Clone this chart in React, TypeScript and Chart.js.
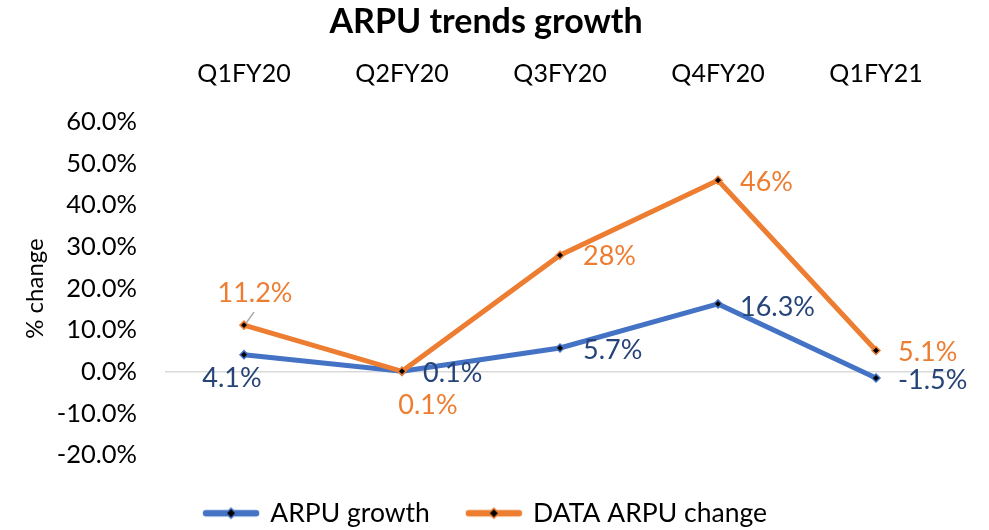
import { useEffect, useRef } from "react";
import { Chart, registerables } from "chart.js";

Chart.register(...registerables);

const categories = ["Q1FY20", "Q2FY20", "Q3FY20", "Q4FY20", "Q1FY21"];
const arpuGrowth = [4.1, 0.1, 5.7, 16.3, -1.5];
const dataArpuChange = [11.2, 0.1, 28, 46, 5.1];
const arpuLabels = ["4.1%", "0.1%", "5.7%", "16.3%", "-1.5%"];
const dataArpuLabels = ["11.2%", "0.1%", "28%", "46%", "5.1%"];
const yMin = -20;
const yMax = 60;
const yStep = 10;

const BLUE = "#4472C4";
const ORANGE = "#ED7D31";
const BLUE_LABEL = "#264478";
const FONT = "Lato, 'Open Sans', sans-serif";

type Place = { dx: number; dy: number; align: CanvasTextAlign; leader?: boolean };

const labelPlacement: Place[][] = [
  [
    { dx: -12, dy: 24, align: "center" },
    { dx: 21, dy: 2, align: "left" },
    { dx: 23, dy: 2, align: "left" },
    { dx: 22, dy: 3, align: "left" },
    { dx: 22, dy: 2, align: "left" },
  ],
  [
    { dx: 11, dy: -32, align: "center", leader: true },
    { dx: 26, dy: 34, align: "center" },
    { dx: 23, dy: 1, align: "left" },
    { dx: 22, dy: 2, align: "left" },
    { dx: 22, dy: 2, align: "left" },
  ],
];

function legendSymbol(color: string) {
  const c = document.createElement("canvas");
  c.width = 58;
  c.height = 14;
  const g = c.getContext("2d")!;
  g.strokeStyle = color;
  g.lineWidth = 6.5;
  g.lineCap = "round";
  g.beginPath();
  g.moveTo(4, 7);
  g.lineTo(54, 7);
  g.stroke();
  g.fillStyle = "#000";
  g.strokeStyle = color;
  g.lineWidth = 1.5;
  g.beginPath();
  g.moveTo(29, 2);
  g.lineTo(34, 7);
  g.lineTo(29, 12);
  g.lineTo(24, 7);
  g.closePath();
  g.fill();
  g.stroke();
  return c;
}

const dataLabelPlugin = {
  id: "pointLabels",
  afterDatasetsDraw(chart: any) {
    const ctx = chart.ctx;
    const texts = [arpuLabels, dataArpuLabels];
    const colors = [BLUE_LABEL, ORANGE];
    ctx.save();
    ctx.font = `27px ${FONT}`;
    ctx.textBaseline = "middle";
    chart.data.datasets.forEach((_ds: any, di: number) => {
      const meta = chart.getDatasetMeta(di);
      meta.data.forEach((pt: any, i: number) => {
        const p = labelPlacement[di][i];
        const x = pt.x + p.dx;
        const y = pt.y + p.dy;
        if (p.leader) {
          ctx.strokeStyle = "#A6A6A6";
          ctx.lineWidth = 1.5;
          ctx.beginPath();
          ctx.moveTo(x - 1, y + 19);
          ctx.lineTo(pt.x + 2, pt.y - 2);
          ctx.stroke();
        }
        ctx.fillStyle = colors[di];
        ctx.textAlign = p.align;
        ctx.fillText(texts[di][i], x, y);
      });
    });
    ctx.restore();
  },
};

export default function App() {
  const ref = useRef<HTMLCanvasElement | null>(null);

  useEffect(() => {
    if (!ref.current) return;
    const chart = new Chart(ref.current, {
      type: "line",
      data: {
        labels: categories,
        datasets: [
          {
            label: "ARPU growth",
            data: arpuGrowth,
            borderColor: BLUE,
            backgroundColor: "#000",
            borderWidth: 5,
            tension: 0,
            pointStyle: "rectRot",
            pointRadius: 4,
            pointBorderColor: BLUE,
            pointBackgroundColor: "#000",
            pointBorderWidth: 1.5,
            order: 1,
          },
          {
            label: "DATA ARPU change",
            data: dataArpuChange,
            borderColor: ORANGE,
            backgroundColor: "#000",
            borderWidth: 5,
            tension: 0,
            pointStyle: "rectRot",
            pointRadius: 4,
            pointBorderColor: ORANGE,
            pointBackgroundColor: "#000",
            pointBorderWidth: 1.5,
            order: 0,
          },
        ],
      },
      options: {
        responsive: false,
        animation: false,
        layout: { padding: { left: 17, right: 34, top: 0, bottom: -6.5 } },
        plugins: {
          title: {
            display: true,
            text: "ARPU trends growth",
            color: "#000",
            font: { family: FONT, size: 34, weight: "bold" },
            padding: { top: 1.6, bottom: 5 },
          },
          legend: {
            display: true,
            position: "bottom",
            title: { display: true, text: " ", font: { size: 5 }, padding: { top: 1, bottom: 0 } },
            labels: {
              usePointStyle: true,
              pointStyleWidth: 52,
              color: "#000",
              font: { family: FONT, size: 26.5 },
              padding: 38,
              sort: (a: any, b: any) => a.datasetIndex - b.datasetIndex,
              generateLabels: (c: any) => {
                const base = Chart.defaults.plugins.legend.labels.generateLabels(c);
                return base.map((l: any) => ({
                  ...l,
                  pointStyle: legendSymbol(l.datasetIndex === 0 ? BLUE : ORANGE),
                  lineWidth: 0,
                }));
              },
            },
          },
          tooltip: { enabled: false },
        },
        scales: {
          x: {
            position: "top",
            offset: true,
            grid: { display: false },
            border: { display: false },
            ticks: { color: "#000", font: { family: FONT, size: 25 }, padding: 25 },
            afterFit: (s: any) => {
              s.height = 74.6;
            },
          },
          y: {
            min: yMin,
            max: yMax,
            grid: {
              drawTicks: false,
              color: (c: any) => (c.tick && c.tick.value === 0 ? "#D9D9D9" : "rgba(0,0,0,0)"),
              lineWidth: 1.5,
            },
            border: { display: false },
            ticks: {
              stepSize: yStep,
              color: "#000",
              font: { family: FONT, size: 25.5 },
              padding: 28,
              callback: (v: any) => Number(v).toFixed(1) + "%",
            },
            title: {
              display: true,
              text: "% change",
              color: "#000",
              font: { family: FONT, size: 24 },
              padding: { top: 4, bottom: 0 },
            },
            afterFit: (s: any) => {
              s.width = 148;
            },
          },
        },
      },
      plugins: [dataLabelPlugin],
    } as any);
    return () => chart.destroy();
  }, []);

  return (
    <div style={{ position: "absolute", left: 0, top: 0, width: 989, height: 530, background: "#fff" }}>
      <canvas ref={ref} width={989} height={530} />
    </div>
  );
}
